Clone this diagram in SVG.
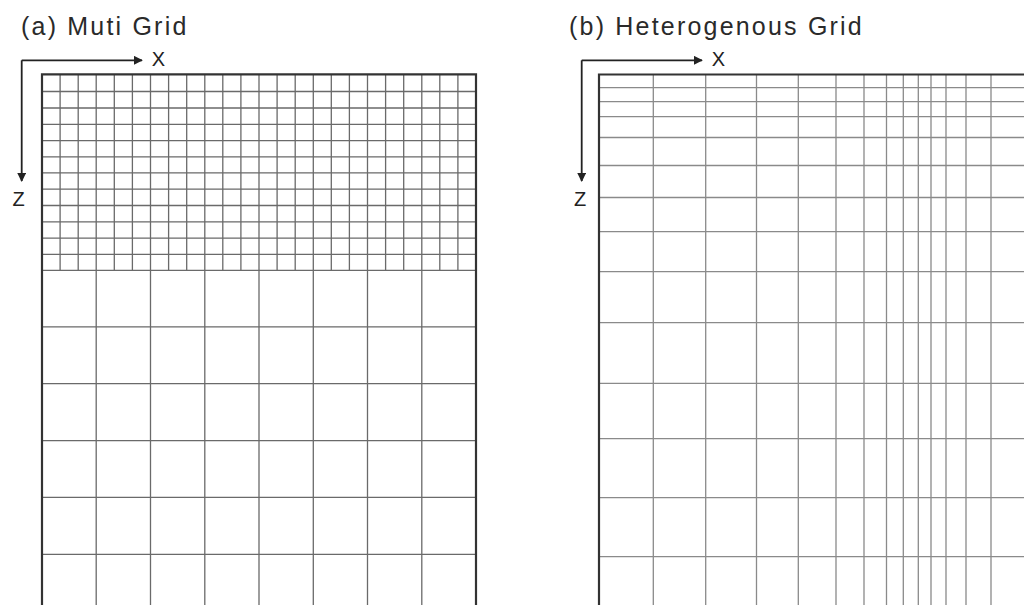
<svg xmlns="http://www.w3.org/2000/svg" width="1024" height="605" viewBox="0 0 1024 605">
<style>
.title{font-family:"Liberation Sans",Arial,sans-serif;font-size:25px;letter-spacing:2.2px;fill:#2a2a2a}
.ax{font-family:"Liberation Sans",Arial,sans-serif;font-size:20px;fill:#222;text-anchor:middle}
.frame{stroke:#333;stroke-width:2.2;fill:none}
.gl{stroke:#6a6a6a;stroke-width:1.3;fill:none}
.gr{stroke:#8a8a8a;stroke-width:1.3;fill:none}
.axis{stroke:#222;stroke-width:1.8;fill:none}
</style>
<defs>
<marker id="ah" viewBox="0 0 10 10" refX="9" refY="5" markerWidth="5" markerHeight="5" markerUnits="strokeWidth" orient="auto">
<path d="M0,0 L10,5 L0,10 Z" fill="#222"/>
</marker>
</defs>
<rect width="1024" height="605" fill="#fff"/>

<g id="panel-a">
<text class="title" x="21" y="35">(a) Muti Grid</text>
<g id="grid-a">
<path class="gl" d="M60.1 74V270M78.2 74V270M114.3 74V270M132.4 74V270M168.6 74V270M186.7 74V270M222.8 74V270M240.9 74V270M277.1 74V270M295.2 74V270M331.3 74V270M349.4 74V270M385.6 74V270M403.7 74V270M439.8 74V270M457.9 74V270"/>
<path class="gl" d="M96.2 74V605M150.5 74V605M204.8 74V605M259 74V605M313.3 74V605M367.5 74V605M421.8 74V605"/>
<path class="gl" d="M42 91.5H476M42 108H476M42 124.3H476M42 140.6H476M42 156.8H476M42 172.9H476M42 189.2H476M42 205.5H476M42 221.8H476M42 238.1H476M42 254.3H476M42 270.3H476M42 326.9H476M42 383.7H476M42 440.6H476M42 497.4H476M42 554.3H476"/>
<path class="frame" d="M42 605V74.3H476V605"/>
</g>
<g id="axes-a">
<path class="axis" d="M21.7 60.3H142" marker-end="url(#ah)"/>
<path class="axis" d="M21.7 60.3V181" marker-end="url(#ah)"/>
<text class="ax" x="158.5" y="65.5">X</text>
<text class="ax" x="18.7" y="205.5">Z</text>
</g>
</g>

<g id="panel-b">
<text class="title" x="569" y="35">(b) Heterogenous Grid</text>
<g id="grid-b">
<path class="gr" d="M653.3 74V605M705.7 74V605M756.5 74V605M798.3 74V605M836 74V605M864 74V605M886.5 74V605M903.3 74V605M918.3 74V605M931 74V605M946 74V605M966 74V605M991 74V605"/>
<path class="gr" d="M599 87.7H1024M599 101.7H1024M599 116.7H1024M599 137.5H1024M599 165.5H1024M599 197.5H1024M599 231.7H1024M599 271.7H1024M599 322.7H1024M599 383.3H1024M599 438.7H1024M599 497.7H1024M599 556.7H1024"/>
<path class="frame" d="M599 605V74.5H1024"/>
</g>
<g id="axes-b">
<path class="axis" d="M581.7 60.3H702" marker-end="url(#ah)"/>
<path class="axis" d="M581.7 60.3V181" marker-end="url(#ah)"/>
<text class="ax" x="718.5" y="65.5">X</text>
<text class="ax" x="580" y="205.5">Z</text>
</g>
</g>
</svg>
